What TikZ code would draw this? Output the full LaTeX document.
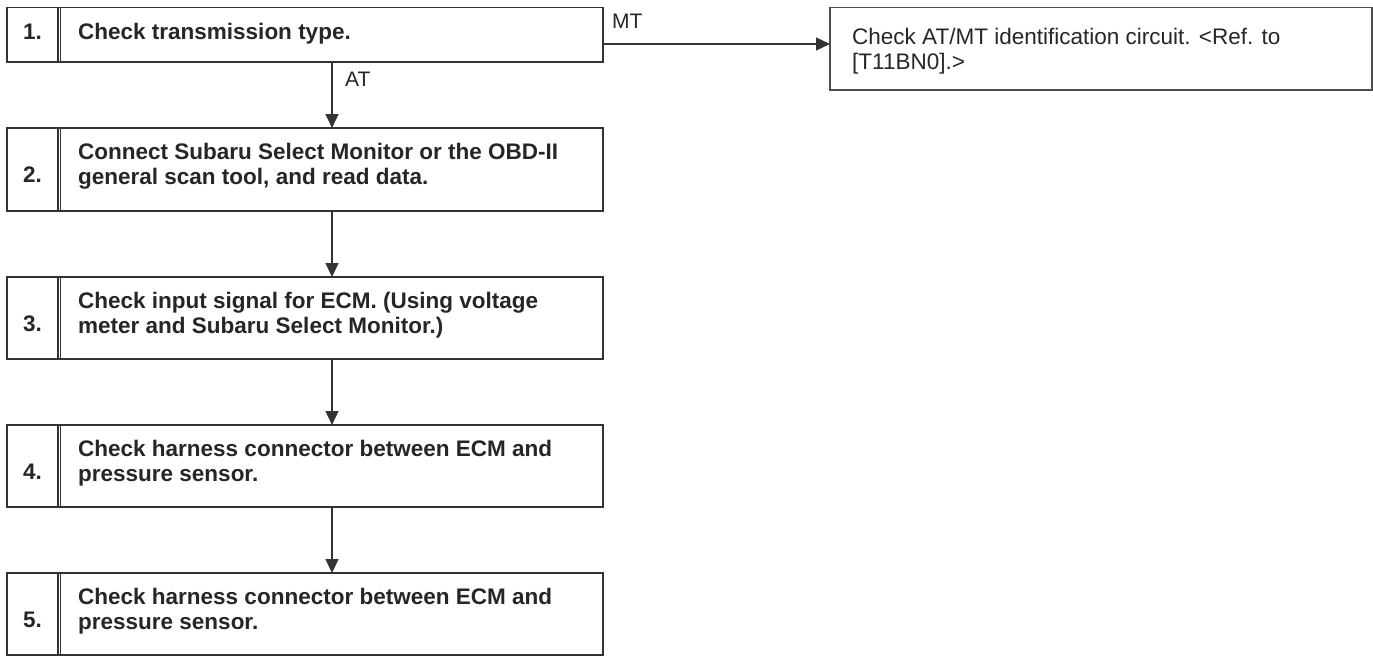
\documentclass[tikz,border=0pt]{standalone}
\usepackage{fontspec}
\setmainfont{Liberation Sans}
\usetikzlibrary{arrows.meta}
\begin{document}
\begin{tikzpicture}[x=1pt,y=-1pt,
  stepbox/.style={draw=black!80, line width=1.3pt, minimum width=596pt,
    inner sep=0pt, outer sep=0pt, anchor=north west},
  sidebox/.style={draw=black!70, line width=1.5pt, minimum width=542pt,
    minimum height=82.5pt, inner sep=0pt, outer sep=0pt, anchor=north west},
  steptext/.style={font=\bfseries\fontsize{22.5}{25}\selectfont, text=black!85,
    align=left, inner sep=0pt, anchor=west},
  stepnum/.style={font=\bfseries\fontsize{22.5}{25}\selectfont, text=black!85,
    inner sep=0pt, anchor=base},
  sidetext/.style={font=\fontsize{22.5}{25}\selectfont, text=black!85,
    align=left, inner sep=0pt, anchor=west},
  branch/.style={font=\fontsize{21}{24}\selectfont, text=black!85,
    inner sep=0pt, anchor=base west},
  divider/.style={draw=black!80, line width=1.2pt},
  flow/.style={draw=black!80, line width=1.2pt,
    -{Triangle[length=14pt,width=13pt]}},
]
\useasboundingbox (0,0) rectangle (1373,656);

% step boxes
\node[stepbox, minimum height=54.5pt] (s1) at (7,7.5) {};
\node[stepbox, minimum height=83pt]   (s2) at (7,128) {};
\node[stepbox, minimum height=82pt]   (s3) at (7,277) {};
\node[stepbox, minimum height=82pt]   (s4) at (7,425) {};
\node[stepbox, minimum height=82pt]   (s5) at (7,573) {};

% double divider between number and text
\foreach \s in {s1,s2,s3,s4,s5}{
  \draw[divider] ([xshift=51pt]\s.north west) -- ([xshift=51pt]\s.south west);
  \draw[divider] ([xshift=53.5pt]\s.north west) -- ([xshift=53.5pt]\s.south west);
}

% step numbers
\node[stepnum] (n1) at (32.5,39) {1.};
\node[stepnum] (n2) at (32.5,182.5) {2.};
\node[stepnum] (n3) at (32.5,331.5) {3.};
\node[stepnum] (n4) at (32.5,479.5) {4.};
\node[stepnum] (n5) at (32.5,627.5) {5.};

% step texts
\node[steptext, anchor=base west] (t1) at (78,39) {Check transmission type.};
\node[steptext] (t2) at ([xshift=71pt,yshift=3pt]s2.west)
  {Connect Subaru Select Monitor or the OBD-II\\general scan tool, and read data.};
\node[steptext] (t3) at ([xshift=71pt,yshift=3pt]s3.west)
  {Check input signal for ECM. (Using voltage\\meter and Subaru Select Monitor.)};
\node[steptext] (t4) at ([xshift=71pt,yshift=3pt]s4.west)
  {Check harness connector between ECM and\\pressure sensor.};
\node[steptext] (t5) at ([xshift=71pt,yshift=3pt]s5.west)
  {Check harness connector between ECM and\\pressure sensor.};

% side box for the MT branch
\node[sidebox] (r) at (830,7.5) {};
\node[sidetext] (rt) at ([xshift=22pt,yshift=-2.5pt]r.west)
  {Check AT/MT identification circuit. <Ref. to\\{}[T11BN0].>};

% connectors
\draw[flow] ([yshift=-36.5pt]s1.north east) -- ([yshift=-36.5pt]r.north west);
\draw[flow] ([xshift=27pt]s1.south) -- ([xshift=27pt]s2.north);
\draw[flow] ([xshift=27pt]s2.south) -- ([xshift=27pt]s3.north);
\draw[flow] ([xshift=27pt]s3.south) -- ([xshift=27pt]s4.north);
\draw[flow] ([xshift=27pt]s4.south) -- ([xshift=27pt]s5.north);

% branch labels
\node[branch] (mt) at (612,28) {MT};
\node[branch] (at) at (345,86) {AT};
\end{tikzpicture}
\end{document}
